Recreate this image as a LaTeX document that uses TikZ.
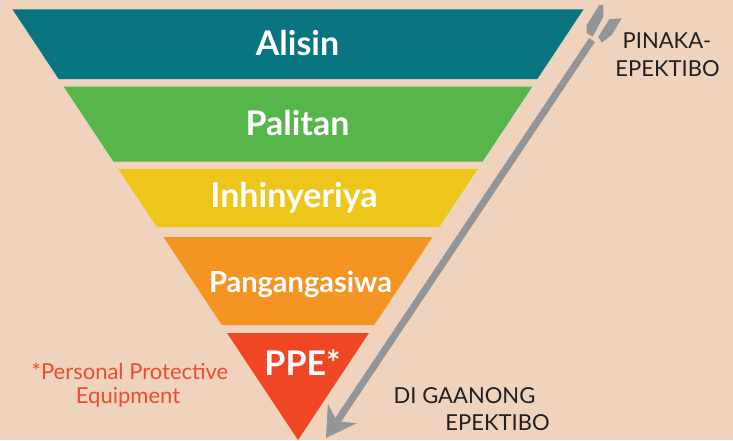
\documentclass[tikz,border=0pt]{standalone}
\usepackage{fontspec}
\setmainfont{Lato}
\usetikzlibrary{arrows.meta}

\definecolor{bgpeach}{HTML}{EFD3BD}
\definecolor{tealband}{HTML}{087580}
\definecolor{greenband}{HTML}{56B54B}
\definecolor{yellowband}{HTML}{EEC51B}
\definecolor{orangeband}{HTML}{F49422}
\definecolor{redband}{HTML}{EF4623}
\definecolor{arrowgray}{HTML}{939699}
\definecolor{darktext}{HTML}{231F20}
\definecolor{notered}{HTML}{EF4B2E}

\tikzset{
  bandlabel/.style={text=white, font=\fontsize{34}{38}\selectfont\bfseries, anchor=base, inner sep=0pt},
  sidelabel/.style={text=darktext, font=\fontsize{22}{28}\selectfont, anchor=base, inner sep=0pt},
  notelabel/.style={text=notered, font=\fontsize{22}{24}\selectfont, anchor=base, inner sep=0pt},
  arrowline/.style={draw=arrowgray, line width=7pt, -{Stealth[length=29pt, width=34pt, inset=9pt]}},
}

\begin{document}
\begin{tikzpicture}[x=1pt, y=-1pt]

    % background
    \fill[bgpeach] (0,0) rectangle (733,440);
    \useasboundingbox (0,0) rectangle (733,440);

    % funnel bands: top / bottom / colour
    \foreach \t/\b/\c in {9.3/79/tealband, 86.5/161.5/greenband, 169/227/yellowband, 237/325/orangeband, 333/440/redband}{
        \fill[\c] ({298-0.663*(440-\t)},\t) -- ({298+0.663*(440-\t)},\t)
            -- ({298+0.663*(440-\b)},\b) -- ({298-0.663*(440-\b)},\b) -- cycle;
    }

    \node[bandlabel] (alisin) at (297.5,55) {Alisin};
    \node[bandlabel] (palitan) at (297.5,135) {Palitan};
    \node[bandlabel] (inhinyeriya) at (294,207) {Inhinyeriya};
    \node[bandlabel, font=\fontsize{29}{32}\selectfont\bfseries] (pangangasiwa) at (300.5,292) {Pangangasiwa};
    \node[bandlabel] (ppe) at (302.5,375) {PPE*};

    % arrow with fletching
    \coordinate (tail) at (592,40);
    \coordinate (tip) at (326,438);
    \draw[arrowline] (tail) -- (tip);
    \fill[arrowgray] (599.3,5) -- (603.3,5) -- (603.3,16.7) -- (592.7,36.7) -- (586.7,33.3) -- (586.7,25) -- cycle;
    \fill[arrowgray] (609.3,19.3) -- (621.7,18.3) -- (611.7,35) -- (601.7,42.7) -- (598.3,36.7) -- cycle;

    % side labels
    \node[sidelabel] (most) at (667,48) {PINAKA-};
    \node[sidelabel] (mosteff) at (667.5,76) {EPEKTIBO};
    \node[sidelabel] (least) at (464.5,403) {DI GAANONG};
    \node[sidelabel] (leasteff) at (497.5,430) {EPEKTIBO};

    \node[notelabel] (ppenote) at (130,379) {*Personal Protective};
    \node[notelabel] (ppenote2) at (128,403) {Equipment};

\end{tikzpicture}
\end{document}
